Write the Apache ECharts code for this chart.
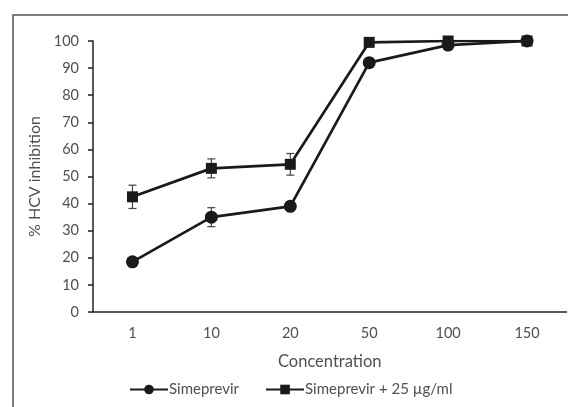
<!DOCTYPE html>
<html><head><meta charset="utf-8">
<script src="https://cdn.jsdelivr.net/npm/echarts@6/dist/echarts.min.js"></script>
<style>html,body{margin:0;padding:0;background:#fff}#c{width:568px;height:407px}</style>
</head><body><div id="c"></div>
<script>
var categories = ['1', '10', '20', '50', '100', '150'];
var simeprevir = [18.5, 35, 39, 92, 98.5, 100];
var simeprevirErr = [1.5, 3.5, 1.5, 1, 1, 0.5];
var combo = [42.5, 53, 54.5, 99.5, 100, 100];
var comboErr = [4.3, 3.5, 4, 0.5, 0.5, 0.5];
var yTicks = {min: 0, max: 100, interval: 10};

var ink = '#1a1a1a', txt = '#505050', font = 'Lato';
function errData(vals, errs) {
  return vals.map(function (v, i) { return [i, v - errs[i], v + errs[i]]; });
}
function errSeries(vals, errs) {
  return {
    type: 'custom', silent: true, z: 1,
    data: errData(vals, errs),
    renderItem: function (params, api) {
      var lo = api.coord([api.value(0), api.value(1)]);
      var hi = api.coord([api.value(0), api.value(2)]);
      var w = 4;
      var st = {stroke: '#444', lineWidth: 1.2};
      return {type: 'group', children: [
        {type: 'line', shape: {x1: lo[0], y1: lo[1], x2: hi[0], y2: hi[1]}, style: st},
        {type: 'line', shape: {x1: lo[0] - w, y1: lo[1], x2: lo[0] + w, y2: lo[1]}, style: st},
        {type: 'line', shape: {x1: hi[0] - w, y1: hi[1], x2: hi[0] + w, y2: hi[1]}, style: st}
      ]};
    }
  };
}
var chart = echarts.init(document.getElementById('c'), null, {renderer: 'canvas'});
chart.setOption({
  animation: false,
  backgroundColor: '#fff',
  grid: {left: 93, top: 41, right: 1.5, bottom: 95, containLabel: false},
  graphic: [{type: 'rect', shape: {x: 13, y: 15, width: 600, height: 450},
    style: {fill: 'none', stroke: '#555', lineWidth: 1.5}, z: 0}],
  legend: {
    left: 129, top: 382, padding: 0, itemWidth: 38, itemHeight: 12, itemGap: 26,
    textStyle: {color: txt, fontFamily: font, fontSize: 15, padding: [0, 0, 0, -4]},
    data: ['Simeprevir', 'Simeprevir + 25 µg/ml']
  },
  xAxis: {
    type: 'category', data: categories, boundaryGap: true,
    name: 'Concentration', nameLocation: 'middle', nameGap: 41,
    nameTextStyle: {color: txt, fontFamily: font, fontSize: 16.5},
    axisLine: {lineStyle: {color: '#222', width: 1.5}},
    axisTick: {alignWithLabel: true, inside: false, length: 4, lineStyle: {color: '#222', width: 1.5}},
    axisLabel: {color: txt, fontFamily: font, fontSize: 14.5, margin: 14},
    splitLine: {show: false}
  },
  yAxis: {
    type: 'value', min: yTicks.min, max: yTicks.max, interval: yTicks.interval,
    name: '% HCV inhibition', nameLocation: 'middle', nameGap: 48,
    nameTextStyle: {color: txt, fontFamily: font, fontSize: 16},
    axisLine: {show: true, lineStyle: {color: '#222', width: 1.5}},
    axisTick: {show: true, length: 5, lineStyle: {color: '#222', width: 1.5}},
    axisLabel: {color: txt, fontFamily: font, fontSize: 14.5, margin: 14},
    splitLine: {show: false}
  },
  series: [
    errSeries(simeprevir, simeprevirErr),
    errSeries(combo, comboErr),
    {name: 'Simeprevir + 25 µg/ml', type: 'line', data: combo, z: 3,
      symbol: 'rect', symbolSize: 11, itemStyle: {color: ink},
      lineStyle: {color: ink, width: 2.7}},
    {name: 'Simeprevir', type: 'line', data: simeprevir, z: 4,
      symbol: 'circle', symbolSize: 13, itemStyle: {color: ink},
      lineStyle: {color: ink, width: 2.7}}
  ]
});
</script></body></html>
